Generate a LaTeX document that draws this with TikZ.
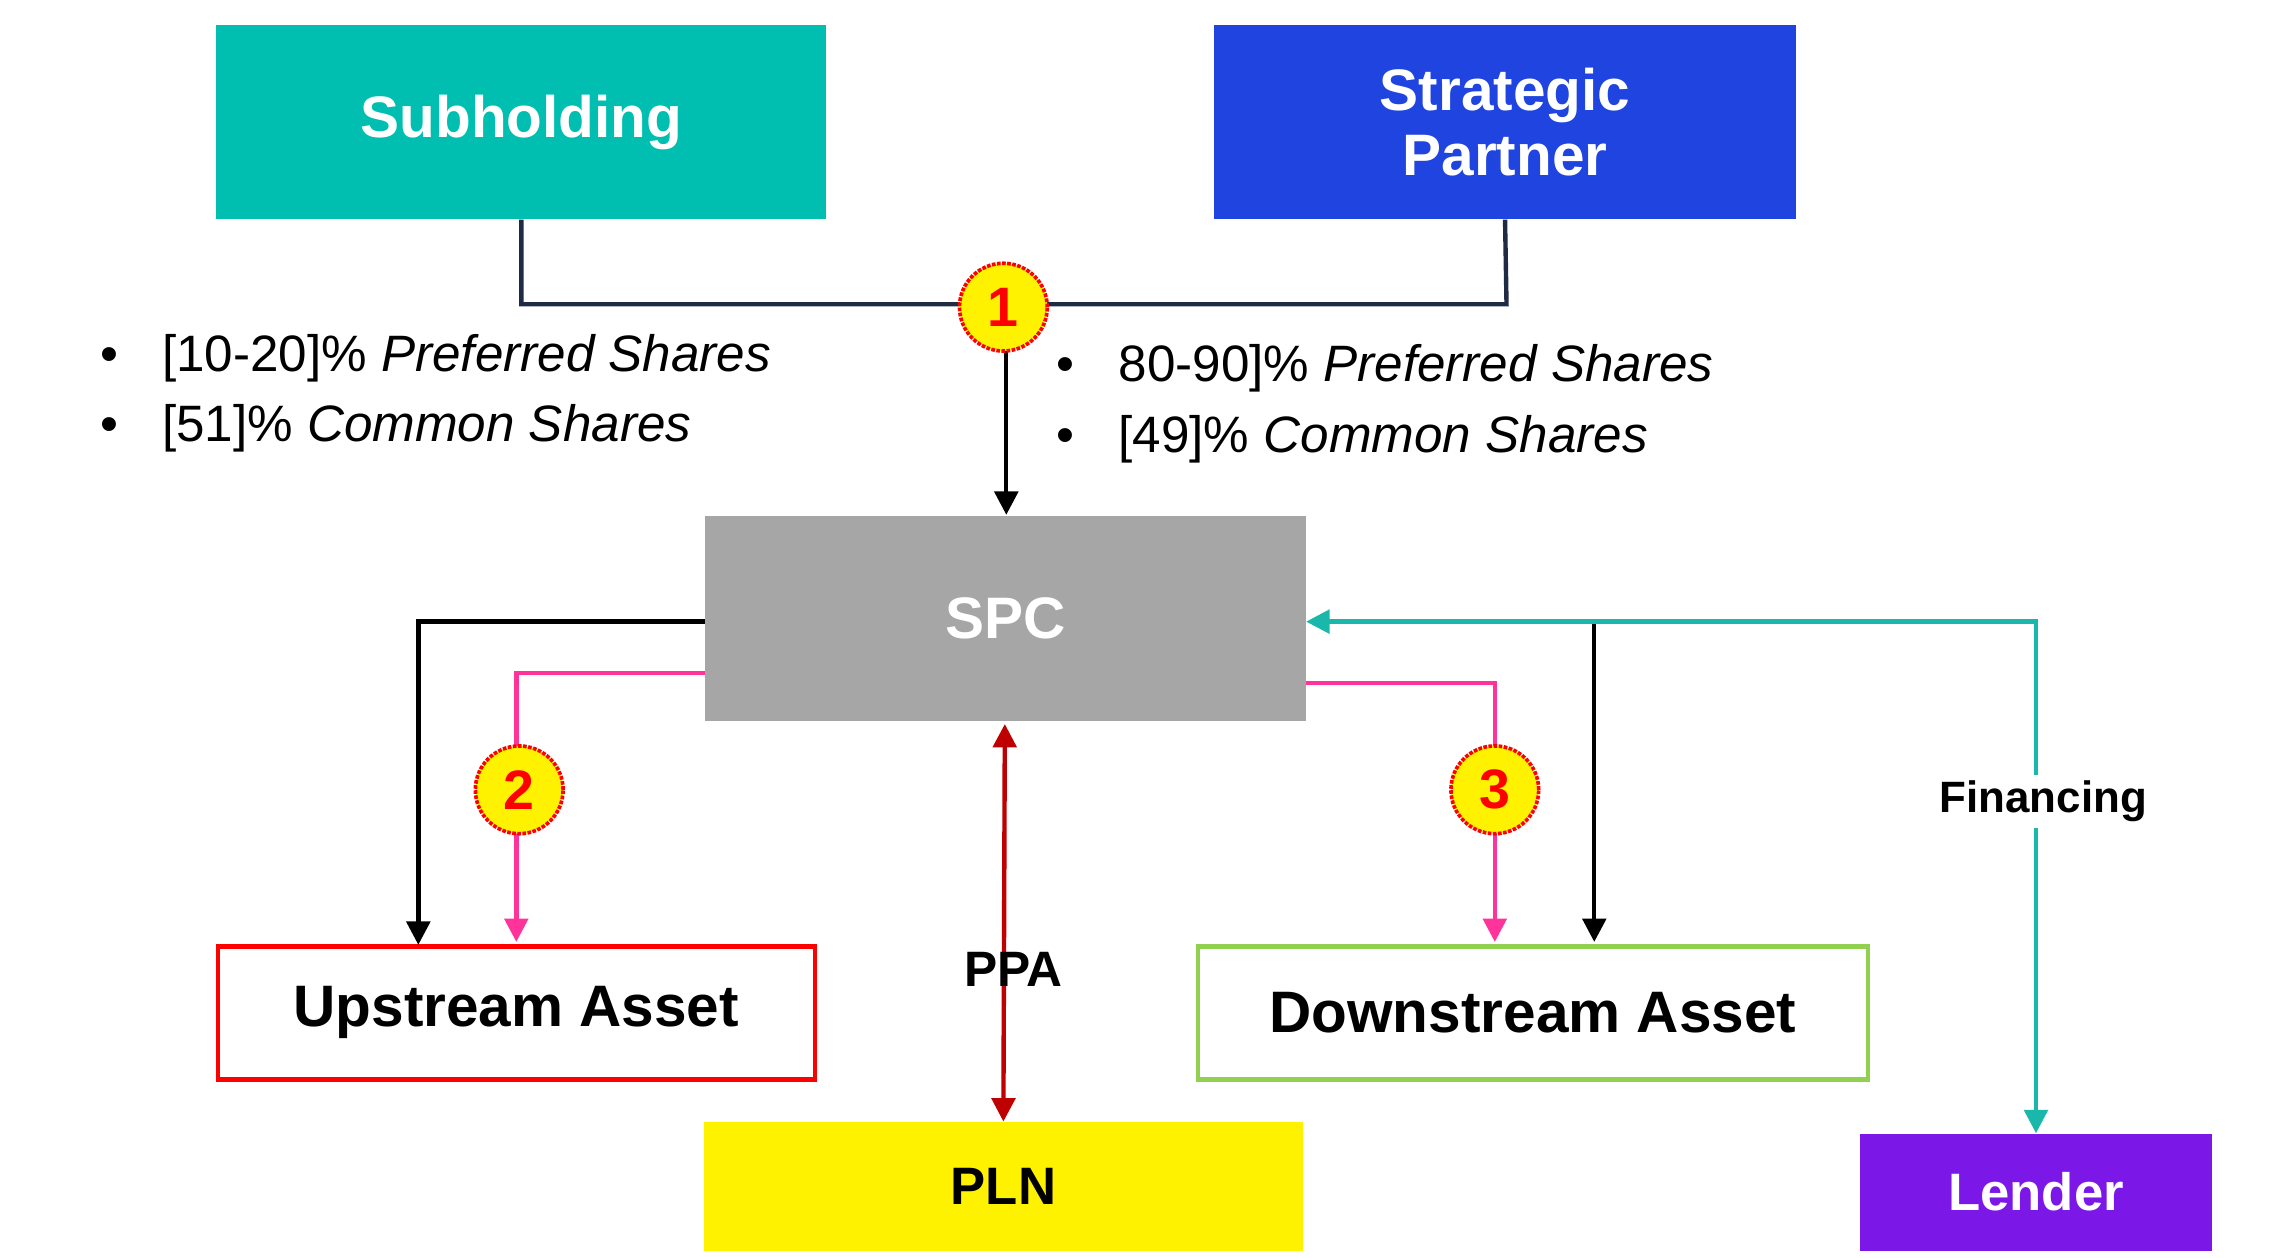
\documentclass[tikz,border=0pt]{standalone}
\usepackage{fontspec}
\setmainfont{Liberation Sans}
\usetikzlibrary{arrows.meta}
\definecolor{teal1}{HTML}{00BFB0}
\definecolor{blue1}{HTML}{1F44E0}
\definecolor{gray1}{HTML}{A6A6A6}
\definecolor{purp}{HTML}{7B18E8}
\definecolor{pinkl}{HTML}{FF3399}
\definecolor{greenb}{HTML}{92D050}
\definecolor{navy}{HTML}{1F2A44}
\definecolor{tealL}{HTML}{19B8AA}
\begin{document}
\begin{tikzpicture}[x=1pt,y=-1pt,
 box/.style={draw=none,minimum width=#1,inner sep=0pt,align=center,font=\fontsize{40}{44}\selectfont\bfseries},
 ln/.style={line width=3pt},
 arr/.style={ln,-{Triangle[length=16pt,width=16pt]}},
 num/.style={circle,fill=yellow,draw=red,densely dotted,line width=2.5pt,minimum size=60pt,inner sep=0pt,text=red,font=\fontsize{38}{40}\selectfont\bfseries},
 bul/.style={anchor=west,font=\fontsize{35}{40}\selectfont}]
\useasboundingbox (0,0) rectangle (1552,860);
\node[box=417pt,minimum height=133pt,fill=teal1,text=white] (sub) at (356.5,83.5) {Subholding};
\node[box=398pt,minimum height=133pt,fill=blue1,text=white] (sp) at (1029,83.5) {Strategic\\Partner};
\node[box=411pt,minimum height=140pt,fill=gray1,text=white] (spc) at (687.5,423) {SPC};
\node[box=408pt,minimum height=91pt,draw=red,line width=3pt,fill=white] (up) at (353,692.5) {Upstream Asset};
\node[box=458pt,minimum height=91pt,draw=greenb,line width=3pt,fill=white] (down) at (1048,692.5) {Downstream Asset};
\node[box=410pt,minimum height=88pt,fill=yellow,font=\fontsize{36}{40}\selectfont\bfseries] (pln) at (686,811) {PLN};
\node[box=240pt,minimum height=80pt,fill=purp,text=white,font=\fontsize{36}{40}\selectfont\bfseries] (lend) at (1392,815) {Lender};
% ownership
\draw[ln,navy] (sub.south) |- (1030,208) -- (sp.south);
\coordinate (j) at (688,208);
\draw[arr] (j) -- (688,352);
\node[num] (n1) at (686,210) {1};
% bullets
\node[bul] (b1) at (65,245) {•\hspace{30pt}[10-20]\% \textit{Preferred Shares}};
\node[bul] (b2) at (65,293) {•\hspace{30pt}[51]\% \textit{Common Shares}};
\node[bul] (b3) at (719,252) {•\hspace{30pt}80-90]\% \textit{Preferred Shares}};
\node[bul] (b4) at (719,300) {•\hspace{30pt}[49]\% \textit{Common Shares}};
% upstream
\draw[arr] (482,425) -| (286,646);
\draw[arr,pinkl] (482,460) -| (353,644);
\node[num] (n2) at (355,540) {2};
% downstream
\draw[arr,pinkl] (893,467) -| (1022,644);
\node[num] (n3) at (1022,540) {3};
\draw[arr] (1090,425) -- (1090,644);
% financing
\draw[ln,tealL,{Triangle[length=16pt,width=16pt]}-{Triangle[length=16pt,width=16pt]}] (893,425) -| (lend.north);
\node[fill=white,font=\fontsize{30}{34}\selectfont\bfseries,inner sep=4pt] (fin) at (1397,548) {Financing};
% PPA
\draw[ln,red!75!black,{Triangle[length=16pt,width=16pt]}-{Triangle[length=16pt,width=16pt]}] (687,495) -- (pln.north);
\node[font=\fontsize{34}{38}\selectfont\bfseries,inner sep=2pt] (ppa) at (693,663) {PPA};
\end{tikzpicture}
\end{document}
